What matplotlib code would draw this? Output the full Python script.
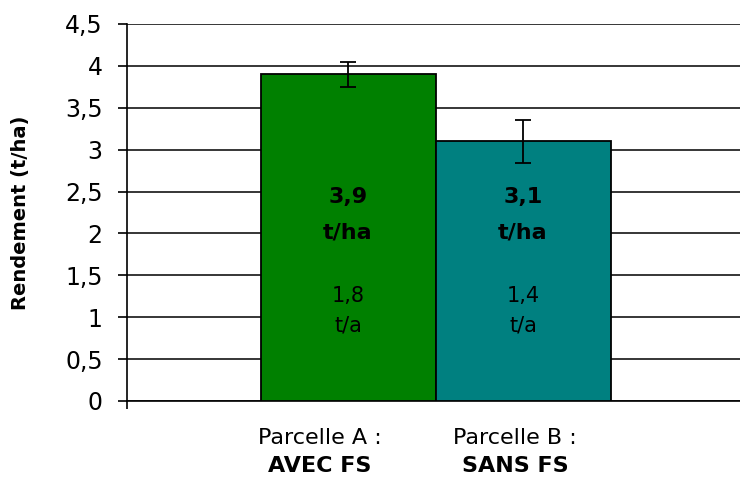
import matplotlib.pyplot as plt
from matplotlib.ticker import FuncFormatter

categories = ["Parcelle A :", "Parcelle B :"]
cat_bold = ["AVEC FS", "SANS FS"]
yields = [3.9, 3.1]
errors = [0.15, 0.26]
value_text = ["3,9", "3,1"]
value_unit = "t/ha"
area_text = ["1,8", "1,4"]
area_unit = "t/a"
colors = ["#008000", "#008080"]

plt.rcParams["font.family"] = ["DejaVu Sans"]

fig = plt.figure(figsize=(7.4, 4.78), dpi=100)
ax = fig.add_axes([127 / 740, 1 - 401 / 478, 1 - 127 / 740, (401 - 24) / 478])

xs = list(range(len(yields)))
ax.bar(xs, yields, width=1.0, color=colors, edgecolor="black", linewidth=1.3, zorder=3)
ax.errorbar(xs, yields, yerr=errors, fmt="none", ecolor="black", elinewidth=1.3,
            capsize=6, capthick=1.3, zorder=4)

# text inside the bars, one line at a time
for x, v, a in zip(xs, value_text, area_text):
    ax.text(x, 2.435, v, ha="center", va="center", fontsize=16, fontweight="bold", zorder=5)
    ax.text(x, 2.017, value_unit, ha="center", va="center", fontsize=16, fontweight="bold", zorder=5)
    ax.text(x, 1.253, a, ha="center", va="center", fontsize=15, zorder=5)
    ax.text(x, 0.907, area_unit, ha="center", va="center", fontsize=15, zorder=5)

ax.set_ylim(0, 4.5)
ax.set_xlim(-1.263, 2.24)
ax.set_yticks([i * 0.5 for i in range(10)])
ax.yaxis.set_major_formatter(FuncFormatter(lambda v, p: f"{v:g}".replace(".", ",")))
ax.tick_params(axis="y", labelsize=17, length=6.5, width=1.2, pad=11)
ax.yaxis.grid(True, color="black", linewidth=1.1, zorder=0)
ax.set_axisbelow(True)

# category labels (offset left of the bar centres, as in the original)
ax.set_xticks(xs)
ax.set_xticklabels([])
ax.tick_params(axis="x", length=0)
shifts = [-20.2, -5.8]
for x, c, b, dx in zip(xs, categories, cat_bold, shifts):
    ax.annotate(c, xy=(x, 0), xycoords=("data", "axes fraction"), xytext=(dx, -26.6),
                textcoords="offset points", ha="center", va="center", fontsize=16)
    ax.annotate(b, xy=(x, 0), xycoords=("data", "axes fraction"), xytext=(dx, -46.8),
                textcoords="offset points", ha="center", va="center", fontsize=16,
                fontweight="bold")
ax.set_xticks([-1.263], minor=True)
ax.tick_params(axis="x", which="minor", length=6, width=1.2)

for side in ["top", "right"]:
    ax.spines[side].set_visible(False)
ax.spines["left"].set_linewidth(1.2)
ax.spines["bottom"].set_linewidth(1.2)

ax.set_ylabel("Rendement (t/ha)", fontsize=14, fontweight="bold")
ax.yaxis.set_label_coords(-0.158, 0.5)

fig.savefig("out.png", dpi=100)
